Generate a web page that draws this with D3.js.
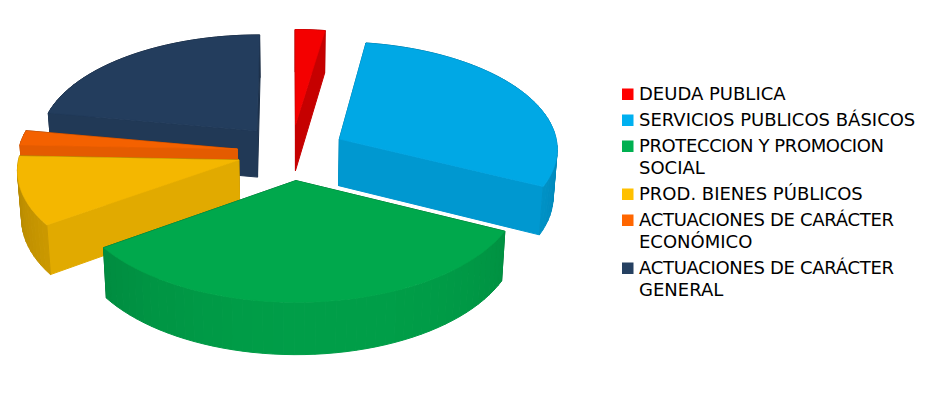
<!DOCTYPE html>
<html>
<head>
<meta charset="utf-8">
<script src="https://d3js.org/d3.v7.min.js"></script>
<style>
body { margin: 0; background: #fff; }
text { font-family: "DejaVu Sans"; fill: #000; }
</style>
</head>
<body>
<div id="chart"></div>
<script>
var categories = ["DEUDA PUBLICA", "SERVICIOS PUBLICOS BÁSICOS", "PROTECCION Y PROMOCION SOCIAL", "PROD. BIENES PÚBLICOS", "ACTUACIONES DE CARÁCTER ECONÓMICO", "ACTUACIONES DE CARÁCTER GENERAL"];
var values = [2.4, 29.8, 33.1, 10.3, 2.2, 22.2];
var colors = ["#ff0000", "#00b0f0", "#00b050", "#ffc000", "#ff6600", "#254061"];
var legendLines = [["DEUDA PUBLICA"], ["SERVICIOS PUBLICOS BÁSICOS"], ["PROTECCION Y PROMOCION", "SOCIAL"], ["PROD. BIENES PÚBLICOS"], ["ACTUACIONES DE CARÁCTER", "ECONÓMICO"], ["ACTUACIONES DE CARÁCTER", "GENERAL"]];
var drawOrder = [0, 5, 4, 3, 1, 2];

var width = 945, height = 400;
var svg = d3.select("#chart").append("svg").attr("width", width).attr("height", height);

// fake perspective camera
var cx = 291.5, cy = 152, radiusX = 219, radiusY = 107, persp = 0.081;
var explodeX = 0.249, explodeY = 0.262, depth = 47, narrow = 0.985;

// these two lines come out tighter in the original
var squeezed = {"PROTECCION Y PROMOCION": 245, "ACTUACIONES DE CARÁCTER": 255};

var xScale = d3.scaleLinear().domain([-1, 1]).range([cx - radiusX, cx + radiusX]);
var yScale = d3.scaleLinear().domain([-1, 1]).range([cy - radiusY, cy + radiusY]);

function project(gx, gy, low) {
    var w = 1 - persp * gy;
    var sx = cx + (xScale(gx) - cx) / w;
    var sy = cy + (yScale(gy) - cy) / w;
    if (low) {
        sx = cx + (sx - cx) * narrow;
        sy = sy + depth / w;
    }
    return [sx, sy];
}

function shade(color, k) {
    var c = d3.rgb(color);
    return d3.rgb(c.r * k, c.g * k, c.b * k).formatHex();
}

// brightness of a side wall from the way it faces, angle clockwise from the top
function wallShade(a) {
    return 0.72 + 0.18 * Math.cos(a - 170 * Math.PI / 180);
}

var pie = d3.pie().sort(null).startAngle(0).endAngle(2 * Math.PI);
var slices = pie(values);
var line = d3.line();
var fine = Math.PI / 180, coarse = Math.PI / 72;

function quad(g, a, b, fill) {
    var pts = [project(a[0], a[1], false), project(b[0], b[1], false), project(b[0], b[1], true), project(a[0], a[1], true)];
    g.append("path").attr("d", line(pts) + "Z").attr("fill", fill).attr("stroke", fill).attr("stroke-width", 1);
}

function arcPoints(d, ox, oy, step) {
    var n = Math.ceil((d.endAngle - d.startAngle) / step);
    return d3.range(n + 1).map(function(k) {
        var a = d.startAngle + (d.endAngle - d.startAngle) * k / n;
        return {a: a, p: [ox + Math.sin(a), oy - Math.cos(a)]};
    });
}

drawOrder.forEach(function(i) {
    var d = slices[i];
    var mid = (d.startAngle + d.endAngle) / 2;
    var ox = Math.sin(mid) * explodeX, oy = -Math.cos(mid) * explodeY;
    var rim = arcPoints(d, ox, oy, coarse);
    var n = rim.length - 1;
    var apex = [ox, oy];
    var g = svg.append("g").attr("class", "slice");

    // sides go back to front so the ones facing away get covered
    var sides = [];
    sides.push({a: apex, b: rim[0].p, k: wallShade(d.startAngle - Math.PI / 2)});
    sides.push({a: rim[n].p, b: apex, k: wallShade(d.endAngle + Math.PI / 2)});
    d3.range(n).forEach(function(k) {
        sides.push({a: rim[k].p, b: rim[k + 1].p, k: wallShade((rim[k].a + rim[k + 1].a) / 2)});
    });
    sides.sort(function(s, t) { return (s.a[1] + s.b[1]) - (t.a[1] + t.b[1]); });
    sides.forEach(function(s) { quad(g, s.a, s.b, shade(colors[i], s.k)); });

    var top = [project(apex[0], apex[1], false)].concat(arcPoints(d, ox, oy, fine).map(function(r) { return project(r.p[0], r.p[1], false); }));
    var topFill = shade(colors[i], 0.955);
    g.append("path").attr("d", line(top) + "Z").attr("fill", topFill).attr("stroke", topFill).attr("stroke-width", 0.6);
});

// legend
var legend = svg.append("g").attr("class", "legend");
var rowY = 94;
categories.forEach(function(c, i) {
    legend.append("rect").attr("x", 622).attr("y", rowY - 5.5).attr("width", 11.5).attr("height", 11.5).attr("fill", colors[i]);
    legendLines[i].forEach(function(t, j) {
        var label = legend.append("text").attr("x", 639).attr("y", rowY + j * 22 + 6.3).style("font-size", "18px").text(t);
        if (squeezed[t]) label.attr("textLength", squeezed[t]);
    });
    rowY += (legendLines[i].length - 1) * 22 + 26;
});
</script>
</body>
</html>
